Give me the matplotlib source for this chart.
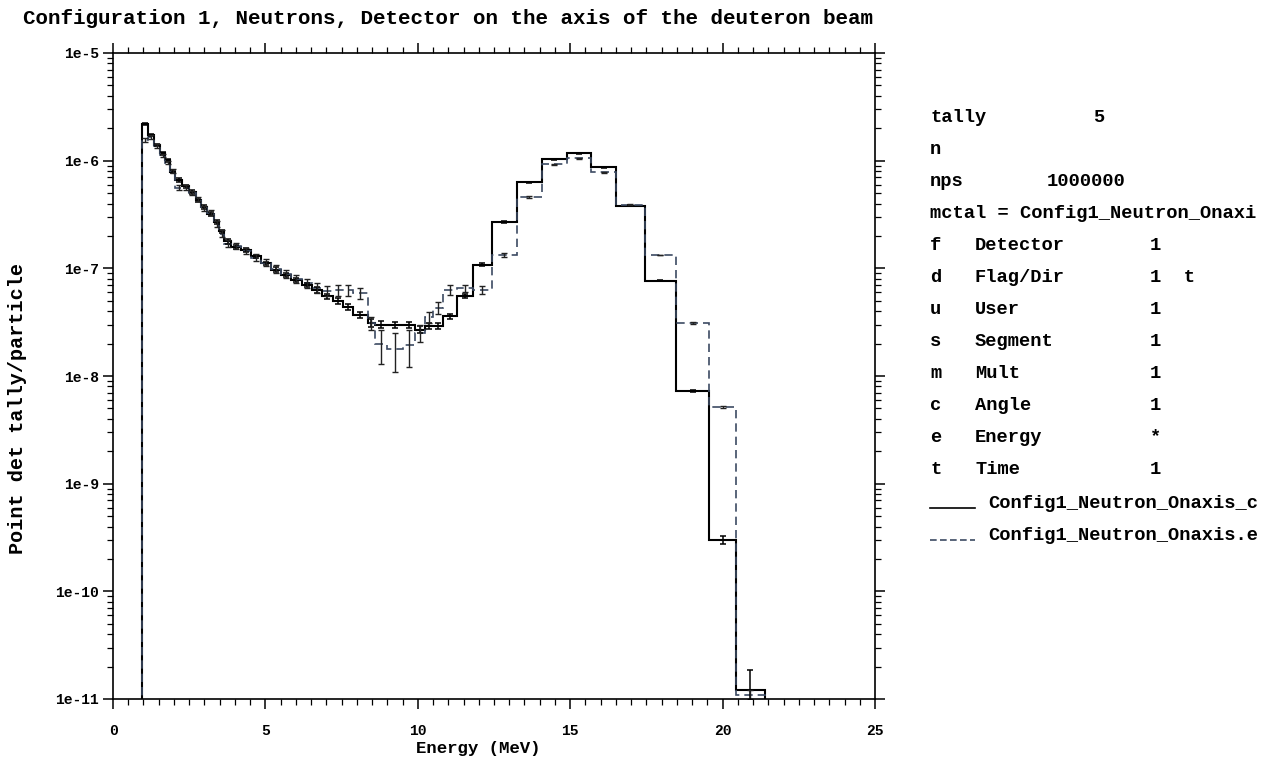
import numpy as np
import matplotlib
matplotlib.use("Agg")
import matplotlib.pyplot as plt
from matplotlib.ticker import MultipleLocator, LogLocator, NullFormatter, FixedLocator, FixedFormatter

# energy bin edges (MeV)
edges = [0.95, 1.15, 1.35, 1.55, 1.72, 1.88, 2.05, 2.27, 2.49, 2.71, 2.88, 3.1,
         3.32, 3.48, 3.65, 3.87, 4.2, 4.53, 4.86, 5.19, 5.52, 5.85, 6.19, 6.52,
         6.85, 7.22, 7.54, 7.87, 8.36, 8.58, 9.0, 9.5, 9.9, 10.23, 10.5, 10.83,
         11.27, 11.81, 12.42, 13.24, 14.06, 14.88, 15.69, 16.51, 17.44, 18.48,
         19.57, 20.45, 21.38]

# tally per bin, solid curve (Config1_Neutron_Onaxis_c)
tally_c = [2.19e-6, 1.73e-6, 1.40e-6, 1.17e-6, 1.01e-6, 7.9e-7, 6.6e-7, 5.8e-7,
           5.1e-7, 4.3e-7, 3.7e-7, 3.2e-7, 2.7e-7, 2.2e-7, 1.78e-7, 1.58e-7,
           1.48e-7, 1.29e-7, 1.11e-7, 9.7e-8, 8.7e-8, 7.8e-8, 7.0e-8, 6.3e-8,
           5.5e-8, 5.0e-8, 4.4e-8, 3.7e-8, 3.1e-8, 3.0e-8, 3.0e-8, 3.0e-8,
           2.7e-8, 2.9e-8, 2.9e-8, 3.6e-8, 5.5e-8, 1.08e-7, 2.7e-7, 6.3e-7,
           1.03e-6, 1.17e-6, 8.7e-7, 3.8e-7, 7.7e-8, 7.2e-9, 3.0e-10, 1.2e-11]
relerr_c = [0.03, 0.03, 0.03, 0.03, 0.03, 0.03, 0.04, 0.03, 0.04, 0.03, 0.04, 0.04,
            0.04, 0.04, 0.05, 0.04, 0.04, 0.04, 0.04, 0.05, 0.05, 0.05, 0.05, 0.06,
            0.06, 0.06, 0.06, 0.07, 0.08, 0.07, 0.06, 0.06, 0.07, 0.06, 0.06, 0.05,
            0.04, 0.03, 0.02, 0.01, 0.01, 0.01, 0.01, 0.01, 0.01, 0.02, 0.08, 0.55]

# tally per bin, dashed curve (Config1_Neutron_Onaxis.e)
tally_e = [1.55e-6, 1.65e-6, 1.38e-6, 1.12e-6, 9.6e-7, 8.0e-7, 5.6e-7, 5.6e-7,
           5.0e-7, 4.4e-7, 3.6e-7, 3.3e-7, 2.6e-7, 2.1e-7, 1.70e-7, 1.62e-7,
           1.45e-7, 1.26e-7, 1.13e-7, 9.9e-8, 8.9e-8, 8.0e-8, 7.3e-8, 6.6e-8,
           6.2e-8, 6.3e-8, 6.3e-8, 5.9e-8, 3.1e-8, 2.0e-8, 1.8e-8, 1.95e-8,
           2.5e-8, 3.5e-8, 4.3e-8, 6.3e-8, 6.5e-8, 6.3e-8, 1.33e-7, 4.6e-7,
           9.3e-7, 1.05e-6, 7.8e-7, 3.9e-7, 1.33e-7, 3.1e-8, 5.2e-9, 1.1e-11]
relerr_e = [0.04, 0.04, 0.04, 0.04, 0.04, 0.05, 0.05, 0.05, 0.05, 0.05, 0.06, 0.06,
            0.06, 0.07, 0.07, 0.06, 0.06, 0.07, 0.07, 0.08, 0.08, 0.09, 0.10, 0.10,
            0.11, 0.12, 0.12, 0.12, 0.14, 0.35, 0.40, 0.38, 0.18, 0.12, 0.12, 0.10,
            0.08, 0.08, 0.04, 0.02, 0.01, 0.01, 0.01, 0.01, 0.01, 0.02, 0.02, 0.10]

info_rows = [("tally", "5", ""), ("n", "", ""), ("nps", "1000000", ""),
             ("mctal = Config1_Neutron_Onaxi", "", ""),
             ("f", "Detector", "1"), ("d", "Flag/Dir", "1  t"), ("u", "User", "1"),
             ("s", "Segment", "1"), ("m", "Mult", "1"), ("c", "Angle", "1"),
             ("e", "Energy", "*"), ("t", "Time", "1")]
legend_names = ["Config1_Neutron_Onaxis_c", "Config1_Neutron_Onaxis.e"]

mono = "Liberation Mono"
W, H = 1270, 761
fig = plt.figure(figsize=(W / 100, H / 100), dpi=100)
ax = fig.add_axes([113 / W, 1 - 699 / H, 762 / W, 646 / H])

dash_col = "#3c4a62"
edges = np.array(edges)
centers = 0.5 * (edges[:-1] + edges[1:])
vc, ve = np.array(tally_c), np.array(tally_e)

ax.stairs(vc, edges, baseline=1e-13, color="black", linewidth=1.5)
ax.stairs(ve, edges, baseline=1e-13, color=dash_col, linewidth=1.2,
          linestyle=(0, (5, 3)))
ax.errorbar(centers, vc, yerr=vc * np.array(relerr_c), fmt="none",
            ecolor="black", elinewidth=1.1, capsize=2, capthick=1.1)
ax.errorbar(centers, ve, yerr=ve * np.array(relerr_e), fmt="none",
            ecolor="#222", elinewidth=1.0, capsize=2, capthick=1.0)

ax.set_yscale("log")
ax.set_xlim(0, 25)
ax.set_ylim(1e-11, 1e-5)
ax.xaxis.set_major_locator(MultipleLocator(5))
ax.xaxis.set_minor_locator(MultipleLocator(0.5))
ax.yaxis.set_major_locator(FixedLocator([10.0 ** k for k in range(-11, -4)]))
ax.yaxis.set_major_formatter(FixedFormatter([f"1e{k}" for k in range(-11, -4)]))
ax.yaxis.set_minor_locator(LogLocator(base=10, subs=np.arange(2, 10)))
ax.yaxis.set_minor_formatter(NullFormatter())
ax.tick_params(which="both", direction="out", top=True, right=True,
               labelfontfamily=mono)
ax.tick_params(which="major", length=7, width=1.1, labelsize=10.5)
ax.tick_params(which="minor", length=4, width=0.9)
for lab in ax.get_xticklabels() + ax.get_yticklabels():
    lab.set_fontweight("bold")
ax.tick_params(axis="x", pad=11)
ax.tick_params(axis="y", pad=3)
for sp in ax.spines.values():
    sp.set_linewidth(1.2)

fig.text(448 / W, 1 - 19 / H,
         "Configuration 1, Neutrons, Detector on the axis of the deuteron beam",
         family=mono, weight="bold", fontsize=15, ha="center", va="center")
fig.text(478 / W, 1 - 748 / H, "Energy (MeV)", family=mono, weight="bold",
         fontsize=12.5, ha="center", va="center")
fig.text(18 / W, 1 - 409 / H, "Point det tally/particle", family=mono,
         weight="bold", fontsize=14.5, ha="center", va="center", rotation=90)

# info panel on the right
kw = dict(family=mono, weight="bold", fontsize=13.5, va="center")
for i, (a, b, c) in enumerate(info_rows):
    y = 1 - (117 + 32 * i) / H
    fig.text(930 / W, y, a, **kw)
    if i < 4:
        if b:
            fig.text((1093 if i == 0 else 1047) / W, y, b, **kw)
    else:
        fig.text(975 / W, y, b, **kw)
        fig.text(1150 / W, y, c, **kw)

for j, name in enumerate(legend_names):
    y = 1 - (503 + 32 * j) / H
    fig.add_artist(plt.Line2D([930 / W, 975 / W], [y - 0.006, y - 0.006],
                              color="black" if j == 0 else dash_col,
                              linewidth=1.2,
                              linestyle="-" if j == 0 else (0, (4, 2))))
    fig.text(988 / W, y, name, **kw)

fig.savefig("out.png", dpi=100)
